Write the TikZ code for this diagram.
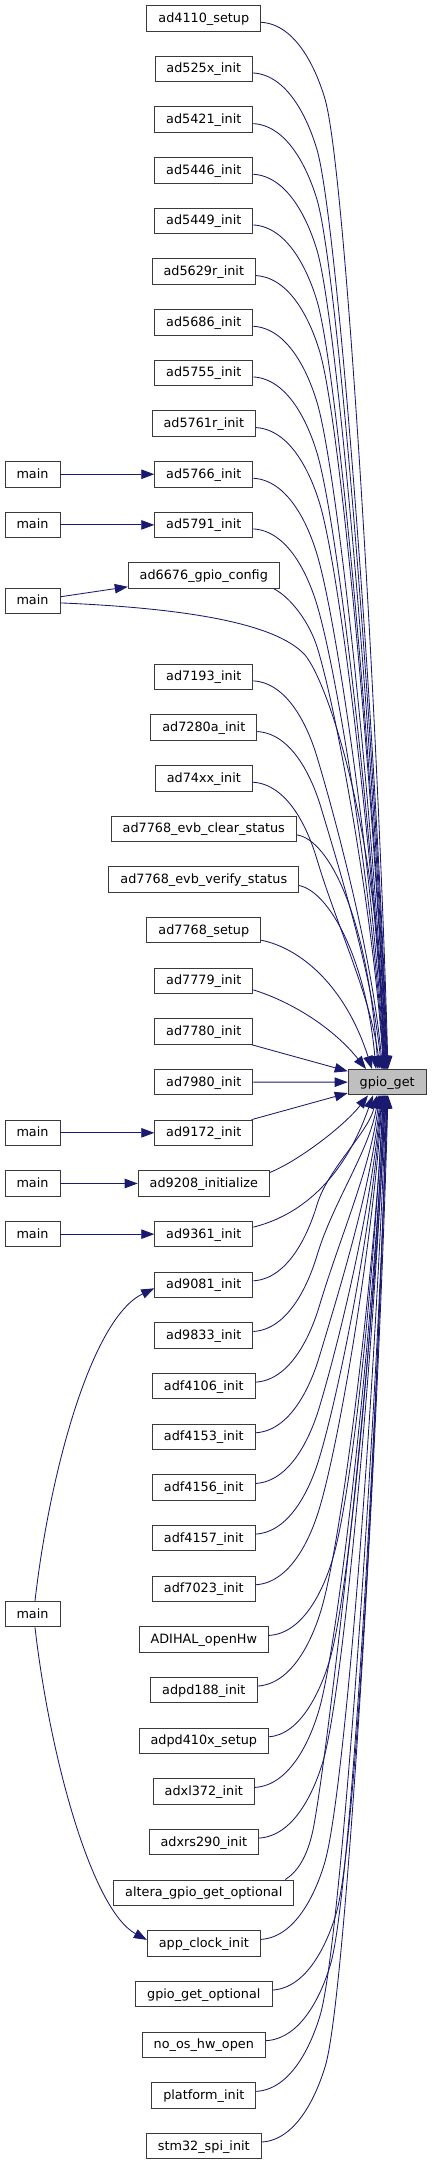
\documentclass[tikz,border=0pt]{standalone}
\usepackage{fontspec}
\setmainfont{DejaVu Sans}
\usetikzlibrary{arrows.meta,calc}
\definecolor{edgec}{HTML}{191970}
\definecolor{boxc}{HTML}{3A3A3A}
\definecolor{hl}{HTML}{BFBFBF}
\begin{document}
\begin{tikzpicture}[x=1pt,y=-1pt,
  box/.style={draw=boxc, line width=0.9pt, fill=white, minimum height=25.5pt,
    inner xsep=11.5pt, inner ysep=0pt, text height=10.5pt, text depth=2.5pt,
    font=\fontsize{12.8pt}{15pt}\selectfont},
  edge/.style={draw=edgec, line width=0.85pt, -{Triangle[length=13pt,width=9.5pt]}}]
\useasboundingbox (0,0) rectangle (432,2165);

% middle column
\foreach \rw/\nm/\tx in {
0/n0/ad4110\_setup, 1/n1/ad525x\_init, 2/n2/ad5421\_init, 3/n3/ad5446\_init,
4/n4/ad5449\_init, 5/n5/ad5629r\_init, 6/n6/ad5686\_init, 7/n7/ad5755\_init,
8/n8/ad5761r\_init, 9/n9/ad5766\_init, 10/n10/ad5791\_init, 11/n11/ad6676\_gpio\_config,
13/n13/ad7193\_init, 14/n14/ad7280a\_init, 15/n15/ad74xx\_init,
16/n16/ad7768\_evb\_clear\_status, 17/n17/ad7768\_evb\_verify\_status,
18/n18/ad7768\_setup, 19/n19/ad7779\_init, 20/n20/ad7780\_init, 21/n21/ad7980\_init,
22/n22/ad9172\_init, 23/n23/ad9208\_initialize, 24/n24/ad9361\_init, 25/n25/ad9081\_init,
26/n26/ad9833\_init, 27/n27/adf4106\_init, 28/n28/adf4153\_init, 29/n29/adf4156\_init,
30/n30/adf4157\_init, 31/n31/adf7023\_init, 32/n32/ADIHAL\_openHw, 33/n33/adpd188\_init,
34/n34/adpd410x\_setup, 35/n35/adxl372\_init, 36/n36/adxrs290\_init,
37/n37/altera\_gpio\_get\_optional, 38/n38/app\_clock\_init, 39/n39/gpio\_get\_optional,
40/n40/no\_os\_hw\_open, 41/n41/platform\_init, 42/n42/stm32\_spi\_init}
  \node[box] (\nm) at (203.8,{18.3+50.66*\rw}) {\tx};

% left column
\foreach \rw/\nm in {9/m9,10/m10,11.5/m11,22/m22,23/m23,24/m24,31.5/m31}
  \node[box] (\nm) at (32.5,{18.3+50.66*\rw}) {main};

% target
\node[box, fill=hl] (g) at (387.2,1082.16) {gpio\_get};

% main -> callers
\draw[edge] (m9) -- (n9);
\draw[edge] (m10) -- (n10);
\draw[edge] (m11) -- (n11);
\draw[edge] (m22) -- (n22);
\draw[edge] (m23) -- (n23);
\draw[edge] (m24) -- (n24);
\draw[edge] ([xshift=2.5pt]m31.north) .. controls (50,1470) and (92,1318) .. ([yshift=-3.5pt]n25.west);
\draw[edge] ([xshift=2.5pt]m31.south) .. controls (50,1758) and (92,1910) .. ([yshift=3.5pt]n38.west);

% upper edges into gpio_get
\foreach \nm/\xs/\rw/\xe in {n0/260.8/0/388, n1/252.8/1/387.6, n2/253/2/387.2, n3/253/3/386.8,
  n4/253/4/386.4, n5/255.7/5/386, n6/253/6/385.6, n7/253/7/385.2, n8/255.7/8/384.8,
  n9/253/9/384.4, n10/253/10/384, n13/253/13/382.5, n14/257/14/381.5, n15/252.6/15/380}{
  \pgfmathsetmacro\qsy{18.3+50.66*\rw+4}
  \pgfmathsetmacro\qax{\xs+35}\pgfmathsetmacro\qay{\qsy+2}
  \pgfmathsetmacro\qkx{\xs+64}\pgfmathsetmacro\qky{\qsy+76}
  \pgfmathsetmacro\qbx{\qkx-9}\pgfmathsetmacro\qby{\qky-30}
  \pgfmathsetmacro\qD{1069.4-\qky}
  \pgfmathsetmacro\qL{min(70,\qD/3)}
  \pgfmathsetmacro\qcx{\qkx+0.3*\qL}\pgfmathsetmacro\qcy{\qky+\qL}
  \pgfmathsetmacro\qdx{\xe-0.15*(\xe-\qkx)}\pgfmathsetmacro\qdy{1069.4-0.35*\qD}
  \pgfmathsetmacro\qes{\xe-387.2}
  \draw[edge] ([yshift=-4pt]\nm.east) .. controls (\qax,\qay) and (\qbx,\qby) .. (\qkx,\qky)
    .. controls (\qcx,\qcy) and (\qdx,\qdy) .. ([xshift=\qes pt]g.north);
}

% lower edges into gpio_get
\foreach \nm/\xs/\rw/\xe in {n25/253/25/377, n26/253/26/378.5, n27/255.3/27/379.5,
  n28/255.3/28/380.5, n29/255.3/29/381.2, n30/255.3/30/381.8, n31/255.3/31/382.4,
  n32/268.5/32/383, n33/257.1/33/383.5, n34/265.5/34/384, n35/254.6/35/384.5,
  n36/258.8/36/385, n38/260.5/38/386, n39/272/39/386.5, n40/266.4/40/387,
  n41/256.1/41/387.5, n42/261.3/42/388}{
  \pgfmathsetmacro\qsy{18.3+50.66*\rw-4}
  \pgfmathsetmacro\qax{\xs+35}\pgfmathsetmacro\qay{\qsy-2}
  \pgfmathsetmacro\qkx{\xs+64}\pgfmathsetmacro\qky{\qsy-76}
  \pgfmathsetmacro\qbx{\qkx-9}\pgfmathsetmacro\qby{\qky+30}
  \pgfmathsetmacro\qD{\qky-1094.9}
  \pgfmathsetmacro\qL{min(70,\qD/3)}
  \pgfmathsetmacro\qcx{\qkx+0.3*\qL}\pgfmathsetmacro\qcy{\qky-\qL}
  \pgfmathsetmacro\qdx{\xe-0.15*(\xe-\qkx)}\pgfmathsetmacro\qdy{1094.9+0.35*\qD}
  \pgfmathsetmacro\qes{\xe-387.2}
  \draw[edge] ([yshift=4pt]\nm.east) .. controls (\qax,\qay) and (\qbx,\qby) .. (\qkx,\qky)
    .. controls (\qcx,\qcy) and (\qdx,\qdy) .. ([xshift=\qes pt]g.south);
}

% special edges
\draw[edge] ([yshift=-2pt]m11.east) .. controls (180,608) and (275,622) .. (305,655)
  .. controls (330,685) and (382,850) .. ([xshift=-4pt]g.north);
\draw[edge] ([xshift=-6pt]n11.south east) .. controls (290,597) and (310,622) .. (318,650)
  .. controls (339,720) and (374,923) .. ([xshift=-3.7pt]g.north);
\draw[edge] ([yshift=-6pt]n16.east) .. controls (330,840) and (368,920) .. ([xshift=-9.2pt]g.north);
\draw[edge] ([yshift=-6pt]n17.east) .. controls (330,892) and (366,960) .. ([xshift=-11.2pt]g.north);
\draw[edge] ([yshift=-10pt]n18.east) .. controls (300,948) and (345,985) .. ([xshift=-15.2pt]g.north);
\draw[edge] ([yshift=-9pt]n19.east) .. controls (295,1003) and (335,1030) .. ([xshift=-21.2pt]g.north);
\draw[edge] (n20) -- (g);
\draw[edge] (n21) -- (g);
\draw[edge] (n22) -- (g);
\draw[edge] ([yshift=11pt]n23.east) .. controls (300,1160) and (345,1125) .. ([xshift=-19.2pt]g.south);
\draw[edge] ([yshift=7pt]n24.east) .. controls (290,1218) and (340,1190) .. ([xshift=-14.2pt]g.south);
\draw[edge] ([xshift=-9pt]n37.north east) .. controls (297,1872) and (307,1858) .. (313,1830)
  .. controls (327,1760) and (374.6,1352) .. ([xshift=-1.7pt]g.south);
\end{tikzpicture}
\end{document}
